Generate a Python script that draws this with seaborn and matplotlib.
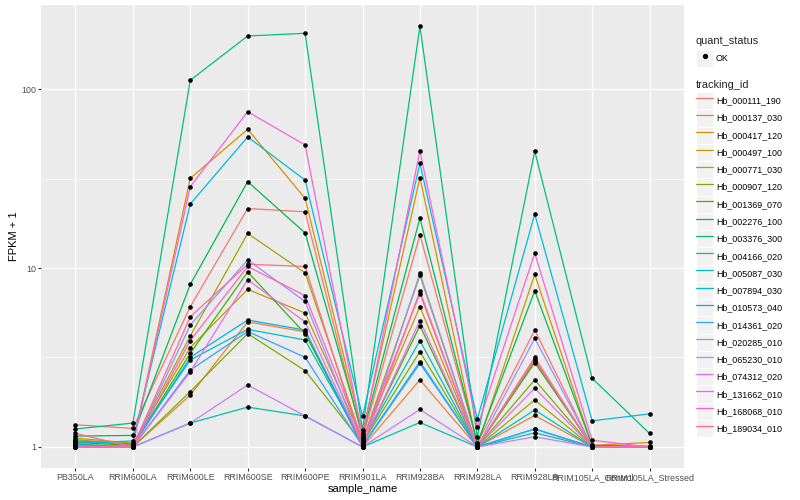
import numpy as np
import pandas as pd
import matplotlib
matplotlib.use("Agg")
import matplotlib.pyplot as plt
import seaborn as sns
from matplotlib.lines import Line2D
from matplotlib.patches import Rectangle
from matplotlib.legend_handler import HandlerTuple
from matplotlib.ticker import FixedLocator, NullFormatter

samples = ["PB350LA", "RRIM600LA", "RRIM600LE", "RRIM600SE", "RRIM600PE", "RRIM901LA",
           "RRIM928BA", "RRIM928LA", "RRIM928LB", "RRIM105LA_Control", "RRIM105LA_Stressed"]

tracking_ids = ["Hb_000111_190", "Hb_000137_030", "Hb_000417_120", "Hb_000497_100",
                "Hb_000771_030", "Hb_000907_120", "Hb_001369_070", "Hb_002276_100",
                "Hb_003376_300", "Hb_004166_020", "Hb_005087_030", "Hb_007894_030",
                "Hb_010573_040", "Hb_014361_020", "Hb_020285_010", "Hb_065230_010",
                "Hb_074312_020", "Hb_131662_010", "Hb_168068_010", "Hb_189034_010"]

colors = ["#F8766D", "#EA8331", "#D89000", "#C09B00", "#A3A500", "#7CAE00", "#39B600",
          "#00BB4E", "#00BF7D", "#00C1A3", "#00BFC4", "#00BAE0", "#00B0F6", "#35A2FF",
          "#9590FF", "#C77CFF", "#E76BF3", "#FA62DB", "#FF62BC", "#FF6C91"]

# FPKM + 1 per tracking_id, in sample order
v_000111_190 = [1.33, 1.27, 6.08, 21.5, 20.6, 1.12, 15.3, 1.05, 4.5, 1.0, 1.0]
v_000137_030 = [1.02, 1.0, 1.95, 5.0, 4.4, 1.0, 2.37, 1.0, 1.5, 1.0, 1.0]
v_000417_120 = [1.10, 1.03, 31.7, 59.6, 24.5, 1.2, 32.0, 1.02, 9.2, 1.02, 1.06]
v_000497_100 = [1.12, 1.05, 3.59, 7.6, 5.6, 1.1, 6.08, 1.0, 3.03, 1.0, 1.0]
v_000771_030 = [1.08, 1.03, 4.17, 15.6, 9.4, 1.08, 9.1, 1.0, 1.83, 1.0, 1.0]
v_000907_120 = [1.04, 1.0, 2.04, 4.3, 2.67, 1.05, 3.41, 1.0, 2.37, 1.0, 1.0]
v_001369_070 = [1.06, 1.02, 3.34, 9.5, 4.3, 1.04, 4.76, 1.0, 2.96, 1.01, 1.0]
v_002276_100 = [1.15, 1.16, 8.1, 30.4, 15.7, 1.17, 19.0, 1.05, 7.45, 1.02, 1.01]
v_003376_300 = [1.26, 1.36, 112.0, 198.0, 205.0, 1.24, 225.0, 1.13, 45.0, 2.42, 1.19]
v_004166_020 = [1.0, 1.0, 1.36, 1.67, 1.49, 1.0, 1.37, 1.0, 1.2, 1.0, 1.0]
v_005087_030 = [1.08, 1.04, 3.06, 4.54, 3.96, 1.06, 3.93, 1.0, 1.61, 1.0, 1.0]
v_007894_030 = [1.05, 1.08, 22.8, 54.0, 31.0, 1.48, 38.5, 1.43, 20.0, 1.4, 1.53]
v_010573_040 = [1.03, 1.01, 3.17, 5.12, 4.5, 1.02, 3.0, 1.0, 1.26, 1.0, 1.0]
v_014361_020 = [1.02, 1.0, 2.69, 4.42, 3.17, 1.01, 2.93, 1.0, 1.26, 1.0, 1.0]
v_020285_010 = [1.01, 1.0, 4.8, 11.1, 6.5, 1.0, 9.35, 1.0, 4.05, 1.0, 1.0]
v_065230_010 = [1.0, 1.0, 1.36, 2.22, 1.49, 1.0, 1.62, 1.0, 1.14, 1.0, 1.0]
v_074312_020 = [1.0, 1.0, 2.63, 8.6, 5.0, 1.03, 5.08, 1.0, 2.13, 1.0, 1.0]
v_131662_010 = [1.0, 1.02, 28.5, 74.7, 48.7, 1.14, 45.2, 1.29, 12.1, 1.09, 1.0]
v_168068_010 = [1.19, 1.0, 3.93, 10.2, 7.0, 1.1, 7.2, 1.0, 3.09, 1.0, 1.0]
v_189034_010 = [1.0, 1.0, 5.34, 10.5, 10.2, 1.0, 7.4, 1.0, 3.17, 1.0, 1.0]

series = [v_000111_190, v_000137_030, v_000417_120, v_000497_100, v_000771_030,
          v_000907_120, v_001369_070, v_002276_100, v_003376_300, v_004166_020,
          v_005087_030, v_007894_030, v_010573_040, v_014361_020, v_020285_010,
          v_065230_010, v_074312_020, v_131662_010, v_168068_010, v_189034_010]

rows = []
for tid, vals in zip(tracking_ids, series):
    for i, (s, v) in enumerate(zip(samples, vals)):
        rows.append({"tracking_id": tid, "sample_name": s, "pos": i, "fpkm1": v,
                     "quant_status": "OK"})
df = pd.DataFrame(rows)

sns.set_theme(style="darkgrid")
FONT = ["Liberation Sans", "DejaVu Sans"]
plt.rcParams["font.family"] = FONT

fig = plt.figure(figsize=(8, 5), dpi=100)
ax = fig.add_axes([41 / 800, 1 - 468 / 500, (684 - 41) / 800, (468 - 5) / 500])
ax.set_facecolor("#EBEBEB")

sns.lineplot(data=df, x="pos", y="fpkm1", hue="tracking_id", hue_order=tracking_ids,
             palette=colors, linewidth=0.9, legend=False, ax=ax, zorder=2,
             errorbar=None)
sns.scatterplot(data=df, x="pos", y="fpkm1", color="black", s=11, linewidth=0,
                legend=False, ax=ax, zorder=3)

ax.set_yscale("log")
lo, hi = 0.0, np.log10(max(max(s) for s in series))
pad = (hi - lo) * 0.05
ax.set_ylim(10 ** (lo - pad), 10 ** (hi + pad))
ax.set_xlim(-0.6, len(samples) - 0.4)

ax.yaxis.set_major_locator(FixedLocator([1, 10, 100]))
ax.set_yticklabels(["1", "10", "100"])
ax.yaxis.set_minor_locator(FixedLocator([10 ** 0.5, 10 ** 1.5]))
ax.yaxis.set_minor_formatter(NullFormatter())
ax.set_xticks(range(len(samples)))
ax.set_xticklabels(samples)

ax.grid(which="major", color="white", linewidth=1.0)
ax.grid(which="minor", axis="y", color="white", linewidth=0.5)
ax.grid(which="minor", axis="x", visible=False)
ax.set_axisbelow(True)
for sp in ax.spines.values():
    sp.set_visible(False)
ax.tick_params(which="major", length=2.0, width=0.8, color="#333333",
               labelsize=6.4, labelcolor="#4D4D4D", pad=1.6, bottom=True, left=True)
ax.tick_params(which="minor", length=0)
ax.set_xlabel("sample_name", fontsize=8, color="black", labelpad=1.5)
ax.set_ylabel("FPKM + 1", fontsize=8, color="black", labelpad=1.5)

# legends
key_bg = "#F2F2F2"
fs = 6.4
hl = 12.4 / fs
hh = 2.61

def keybox():
    return Rectangle((0, 0), 1, 1, facecolor=key_bg, edgecolor="white", linewidth=0.8)

common = dict(loc="upper left", frameon=False, fontsize=fs, title_fontsize=7.9,
              handlelength=hl, handleheight=hh, labelspacing=0, handletextpad=0.3,
              borderpad=0, borderaxespad=0, alignment="left",
              handler_map={tuple: HandlerTuple(ndivide=1, pad=0)})

ok_handle = (keybox(), Line2D([], [], marker="o", color="black", linestyle="none",
                              markersize=2.8))
leg1 = fig.legend([ok_handle], ["OK"], title="quant_status",
                  bbox_to_anchor=(696 / 800, 1 - 36 / 500), **common)
leg1._legend_box.sep = 3.0

line_handles = [(keybox(), Line2D([], [], color=c, linewidth=0.9)) for c in colors]
leg2 = fig.legend(line_handles, tracking_ids, title="tracking_id",
                  bbox_to_anchor=(696 / 800, 1 - 80 / 500), **common)
leg2._legend_box.sep = 1.5
for leg in (leg1, leg2):
    for t in leg.get_texts():
        t.set_color("black")

fig.savefig("out.png", dpi=100, facecolor="white")
